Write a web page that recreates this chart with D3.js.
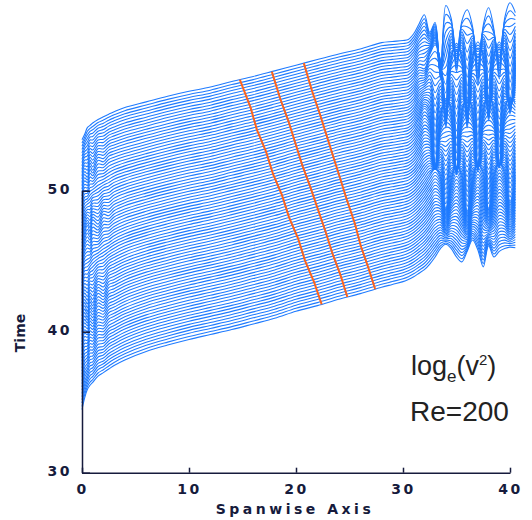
<!DOCTYPE html>
<html>
<head>
<meta charset="utf-8">
<script src="https://cdn.jsdelivr.net/npm/d3@7"></script>
<style>
  body { margin: 0; background: #fff; }
  svg { display: block; }
</style>
</head>
<body>
<svg id="chart" width="532" height="520"></svg>
<script>
// time of each stacked line
const lineTimes = [
  32.00, 32.21, 32.43, 32.64, 32.85, 33.06, 33.28, 33.49, 33.70, 33.91,
  34.13, 34.34, 34.55, 34.76, 34.98, 35.19, 35.40, 35.61, 35.83, 36.04,
  36.25, 36.46, 36.68, 36.89, 37.10, 37.31, 37.53, 37.74, 37.95, 38.16,
  38.38, 38.59, 38.80, 39.01, 39.23, 39.44, 39.65, 39.86, 40.08, 40.29,
  40.50, 40.71, 40.93, 41.14, 41.35, 41.56, 41.78, 41.99, 42.20, 42.41,
  42.63, 42.84, 43.05, 43.26, 43.48, 43.69, 43.90, 44.11, 44.33, 44.54,
  44.75, 44.96, 45.18, 45.39, 45.60, 45.81, 46.03, 46.24, 46.45, 46.66,
  46.88, 47.09, 47.30, 47.51, 47.73, 47.94, 48.15, 48.36, 48.58, 48.79,
  49.00, 49.21, 49.43
];

// spanwise sample positions
const spanX = [
  0, 0.25, 0.5, 0.75, 1, 1.5, 2, 2.5, 3,
  4, 6, 8, 10, 12, 14, 16, 18, 20, 22, 24, 26, 28, 29, 30,
  30.5, 31, 31.5, 32, 32.5, 33, 33.5, 34, 34.5, 35, 35.5, 36, 36.5, 37, 37.5, 38, 38.5, 39, 39.5, 40, 40.5
];

// log_e(v^2) offsets (in time units) read for a few of the lines
const keyLines = [0, 27, 50, 68, 82];
const profileLine0 = [
  2.47, 3.3, 3.9, 4.2, 4.4, 4.85, 5.1, 5.35, 5.6,
  6.0, 6.6, 7.05, 7.45, 7.8, 8.15, 8.55, 8.95, 9.45, 9.85, 10.3, 10.7, 11.15, 11.35, 11.55,
  11.7, 11.9, 12.15, 12.4, 12.8, 13.3, 13.9, 14.2, 13.9, 13.3, 12.95, 13.7, 14.5, 13.8, 12.6, 14.1, 13.3, 13.7, 13.9, 14.0, 13.95
];
const profileLine27 = [
  2.9, 4.1, 3.7, 4.6, 4.3, 5.2, 4.95, 5.6, 5.75,
  6.15, 6.7, 7.12, 7.5, 7.84, 8.2, 8.6, 9.0, 9.46, 9.86, 10.29, 10.67, 11.12, 11.28, 11.44,
  11.55, 11.8, 12.2, 12.7, 13.3, 13.8, 13.2, 11.0, 13.0, 14.0, 13.2, 10.8, 13.0, 14.1, 13.4, 11.0, 13.2, 14.2, 13.5, 11.5, 13.4
];
const profileLine50 = [
  3.4, 4.4, 4.9, 4.5, 5.3, 5.0, 5.7, 5.6, 5.95,
  6.3, 6.77, 7.18, 7.55, 7.87, 8.25, 8.62, 9.02, 9.46, 9.86, 10.28, 10.65, 11.1, 11.22, 11.35,
  11.45, 11.8, 12.5, 13.2, 12.6, 9.0, 12.5, 13.9, 13.0, 8.5, 12.8, 14.0, 13.0, 8.8, 12.9, 14.1, 13.0, 9.0, 13.0, 14.0, 13.5
];
const profileLine68 = [
  3.9, 4.7, 4.5, 5.3, 5.0, 5.7, 5.6, 6.0, 6.15,
  6.4, 6.83, 7.23, 7.59, 7.9, 8.29, 8.65, 9.05, 9.47, 9.87, 10.27, 10.63, 11.08, 11.18, 11.28,
  11.35, 11.7, 12.3, 12.2, 13.2, 13.9, 12.8, 8.0, 12.8, 14.0, 12.9, 8.0, 12.9, 14.1, 13.0, 8.5, 13.0, 14.1, 13.0, 9.0, 12.8
];
const profileLine82 = [
  4.19, 4.57, 5.04, 5.2, 5.37, 5.62, 5.82, 6.0, 6.17,
  6.47, 6.87, 7.27, 7.62, 7.92, 8.32, 8.67, 9.07, 9.47, 9.87, 10.27, 10.62, 11.07, 11.15, 11.22,
  11.3, 11.7, 12.4, 13.05, 11.8, 12.5, 8.5, 13.7, 12.8, 9.0, 12.6, 13.4, 12.2, 8.0, 12.3, 13.55, 12.0, 8.5, 12.8, 13.9, 13.2
];

// spanwise position of the three fronts on some of the lines
const frontLines = [0, 8, 16, 24, 32, 40, 48, 56, 64, 72, 82];
const frontA = [22.4, 21.7, 20.85, 20.2, 19.35, 18.7, 17.85, 17.2, 16.35, 15.75, 14.75];
const frontB = [24.8, 24.15, 23.4, 22.75, 22.05, 21.35, 20.6, 19.95, 19.3, 18.55, 17.74];
const frontC = [27.4, 26.75, 26.05, 25.5, 24.8, 24.15, 23.5, 22.85, 22.2, 21.5, 20.73];

const xTicks = [0, 10, 20, 30, 40];
const yTicks = [30, 40, 50];

const svg = d3.select("#chart");

const xScale = d3.scaleLinear().domain([0, 40]).range([82, 510]);
const yScale = d3.scaleLinear().domain([30, 50]).range([472.7, 190.7]);

const keyProfiles = [profileLine0, profileLine27, profileLine50, profileLine68, profileLine82];

function profileFor(i) {
    let k = 0;
    while (k < keyLines.length - 2 && i > keyLines[k + 1]) k++;
    const w = (i - keyLines[k]) / (keyLines[k + 1] - keyLines[k]);
    return spanX.map((s, j) => (1 - w) * keyProfiles[k][j] + w * keyProfiles[k + 1][j]);
}

const lines = lineTimes.map((t, i) => {
    const p = profileFor(i);
    return spanX.map((s, j) => ({ s: s, t: t + p[j] }));
});

const lineGen = d3.line()
    .x(d => xScale(d.s))
    .y(d => yScale(d.t))
    .curve(d3.curveCatmullRom.alpha(0.5));

svg.append("g")
    .selectAll("path")
    .data(lines)
    .enter()
    .append("path")
    .attr("d", lineGen)
    .attr("fill", "none")
    .attr("stroke", "#1f7bff")
    .attr("stroke-width", 1.1);

// value of line i at spanwise position s
function valueAt(i, s) {
    const pts = lines[i];
    let j = 0;
    while (j < pts.length - 2 && s > pts[j + 1].s) j++;
    const a = pts[j], b = pts[j + 1];
    const w = (s - a.s) / (b.s - a.s);
    return a.t + w * (b.t - a.t);
}

[frontA, frontB, frontC].forEach(front => {
    const pts = frontLines.map((li, k) => ({ s: front[k], t: valueAt(li, front[k]) }));
    svg.append("path")
        .datum(pts)
        .attr("d", d3.line().x(d => xScale(d.s)).y(d => yScale(d.t)))
        .attr("fill", "none")
        .attr("stroke", "#fa6420")
        .attr("stroke-width", 2);
});

// axes
const axisColor = "#161b3c";

const xAxis = svg.append("g")
    .attr("transform", "translate(0,472.7)")
    .call(d3.axisBottom(xScale).tickValues(xTicks).tickSize(-5).tickSizeOuter(0).tickPadding(11));

const yAxis = svg.append("g")
    .attr("transform", "translate(82,0)")
    .call(d3.axisLeft(yScale).tickValues(yTicks).tickSize(-8).tickSizeOuter(0).tickPadding(10));

[xAxis, yAxis].forEach(g => {
    g.selectAll("path, line").attr("stroke", axisColor).attr("stroke-width", 1.5);
    g.selectAll("text")
        .attr("fill", axisColor)
        .style("font-family", "DejaVu Sans")
        .style("font-weight", "bold")
        .style("font-size", "14px")
        .style("letter-spacing", "2.5px");
});
yAxis.selectAll("text").attr("dy", "0.2em");

svg.append("text")
    .attr("x", 295)
    .attr("y", 514)
    .attr("text-anchor", "middle")
    .attr("fill", axisColor)
    .style("font-family", "DejaVu Sans")
    .style("font-weight", "bold")
    .style("font-size", "14px")
    .style("letter-spacing", "3.5px")
    .text("Spanwise Axis");

svg.append("text")
    .attr("transform", "translate(25,333) rotate(-90)")
    .attr("text-anchor", "middle")
    .attr("fill", axisColor)
    .style("font-family", "DejaVu Sans")
    .style("font-weight", "bold")
    .style("font-size", "14px")
    .text("Time");

// annotation
const note = svg.append("text")
    .attr("x", 411)
    .attr("y", 375)
    .attr("fill", "#222")
    .style("font-family", "Liberation Sans")
    .style("font-size", "27px");
note.append("tspan").text("log");
note.append("tspan").attr("dy", 7).style("font-size", "17px").text("e");
note.append("tspan").attr("dy", -7).text("(v");
note.append("tspan").attr("dy", -10).style("font-size", "15px").text("2");
note.append("tspan").attr("dy", 10).text(")");

svg.append("text")
    .attr("x", 410)
    .attr("y", 421)
    .attr("fill", "#222")
    .style("font-family", "Liberation Sans")
    .style("font-size", "28px")
    .text("Re=200");
</script>
</body>
</html>
